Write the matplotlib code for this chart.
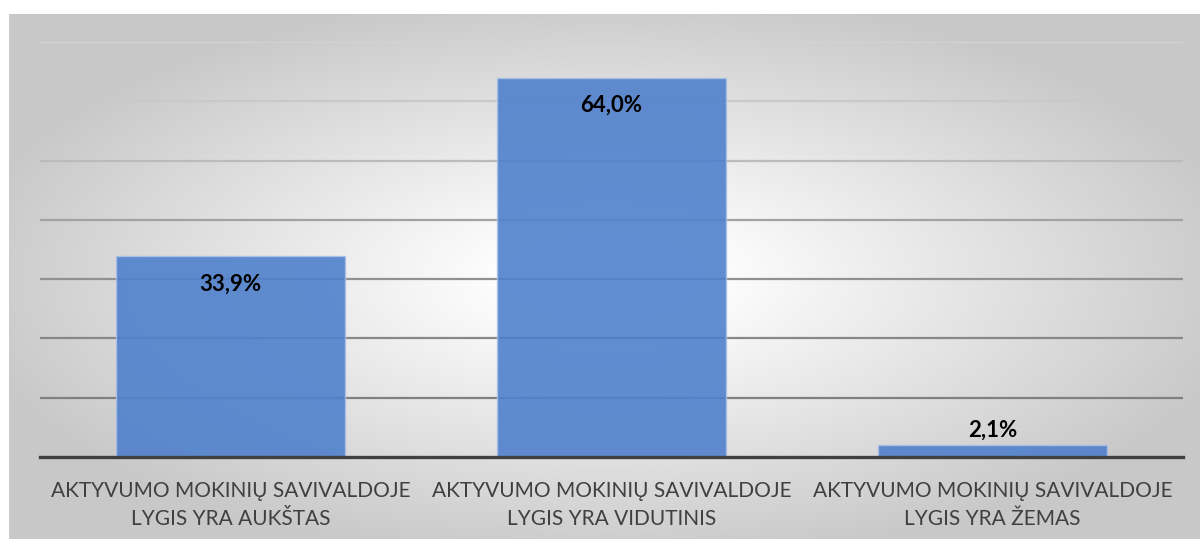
import numpy as np
import matplotlib
matplotlib.use("Agg")
import matplotlib.pyplot as plt

categories = [
    "AKTYVUMO MOKINIŲ SAVIVALDOJE\nLYGIS YRA AUKŠTAS",
    "AKTYVUMO MOKINIŲ SAVIVALDOJE\nLYGIS YRA VIDUTINIS",
    "AKTYVUMO MOKINIŲ SAVIVALDOJE\nLYGIS YRA ŽEMAS",
]
values = [33.9, 64.0, 2.1]
value_labels = ["33,9%", "64,0%", "2,1%"]

W, H = 1202, 539
fig = plt.figure(figsize=(W / 100, H / 100), dpi=100)
fig.patch.set_facecolor("white")

# radial gradient background of the chart area
bg = fig.add_axes([9 / W, 0, (1200 - 9) / W, (539 - 14) / H])
bg.set_zorder(-5)
ny, nx = 300, 600
yy, xx = np.mgrid[0:ny, 0:nx]
cx, cy = nx * 0.50, ny * 0.50
r = np.sqrt(((xx - cx) / (nx / 2)) ** 2 + ((yy - cy) / (ny / 2)) ** 2)
t = np.clip((r - 0.15) / 0.95, 0, 1)
val = 1 - 0.215 * t
img = np.dstack([val, val, val])
bg.imshow(img, aspect="auto", extent=[0, 1, 0, 1], interpolation="bilinear")
bg.set_axis_off()

ax = fig.add_axes([40 / W, (H - 457) / H, (1183 - 40) / W, (457 - 42) / H])
ax.set_facecolor("none")
x = np.arange(len(categories))
ax.set_xlim(-0.5, len(categories) - 0.5)
ax.set_ylim(0, 70)

bars = ax.bar(x, values, width=0.6, color="#5080CC", alpha=0.9,
              edgecolor="#A9C0E8", linewidth=1.0, zorder=3)

ax.set_yticks(np.arange(10, 71, 10))
ax.yaxis.grid(True, zorder=2)
grid_colors = ["#808080", "#888888", "#919191", "#A2A2A2", "#BBBBBB", "#C9C9C9", "#D3D3D3"]
for gl, c in zip(ax.get_ygridlines(), grid_colors):
    gl.set_color(c)
    gl.set_linewidth(1.6)
ax.set_axisbelow(True)
ax.tick_params(axis="y", left=False, labelleft=False)

for s in ["top", "right", "left"]:
    ax.spines[s].set_visible(False)
ax.spines["bottom"].set_color("#404040")
ax.spines["bottom"].set_linewidth(2.4)
ax.spines["bottom"].set_zorder(5)

ax.set_xticks(x)
ax.set_xticklabels(categories, fontsize=15, family="Lato", color="#404040",
                   linespacing=1.5)
ax.tick_params(axis="x", bottom=False, pad=14)

for xi, v, lab in zip(x, values, value_labels):
    if v > 10:
        ax.annotate(lab, (xi, v), xytext=(0, -28), textcoords="offset pixels",
                    ha="center", va="center", fontsize=16, fontweight="bold",
                    family="Lato", color="black", zorder=6)
    else:
        ax.annotate(lab, (xi, v), xytext=(0, 14), textcoords="offset pixels",
                    ha="center", va="center", fontsize=16, fontweight="bold",
                    family="Lato", color="black", zorder=6)

fig.savefig("out.png", dpi=100)
